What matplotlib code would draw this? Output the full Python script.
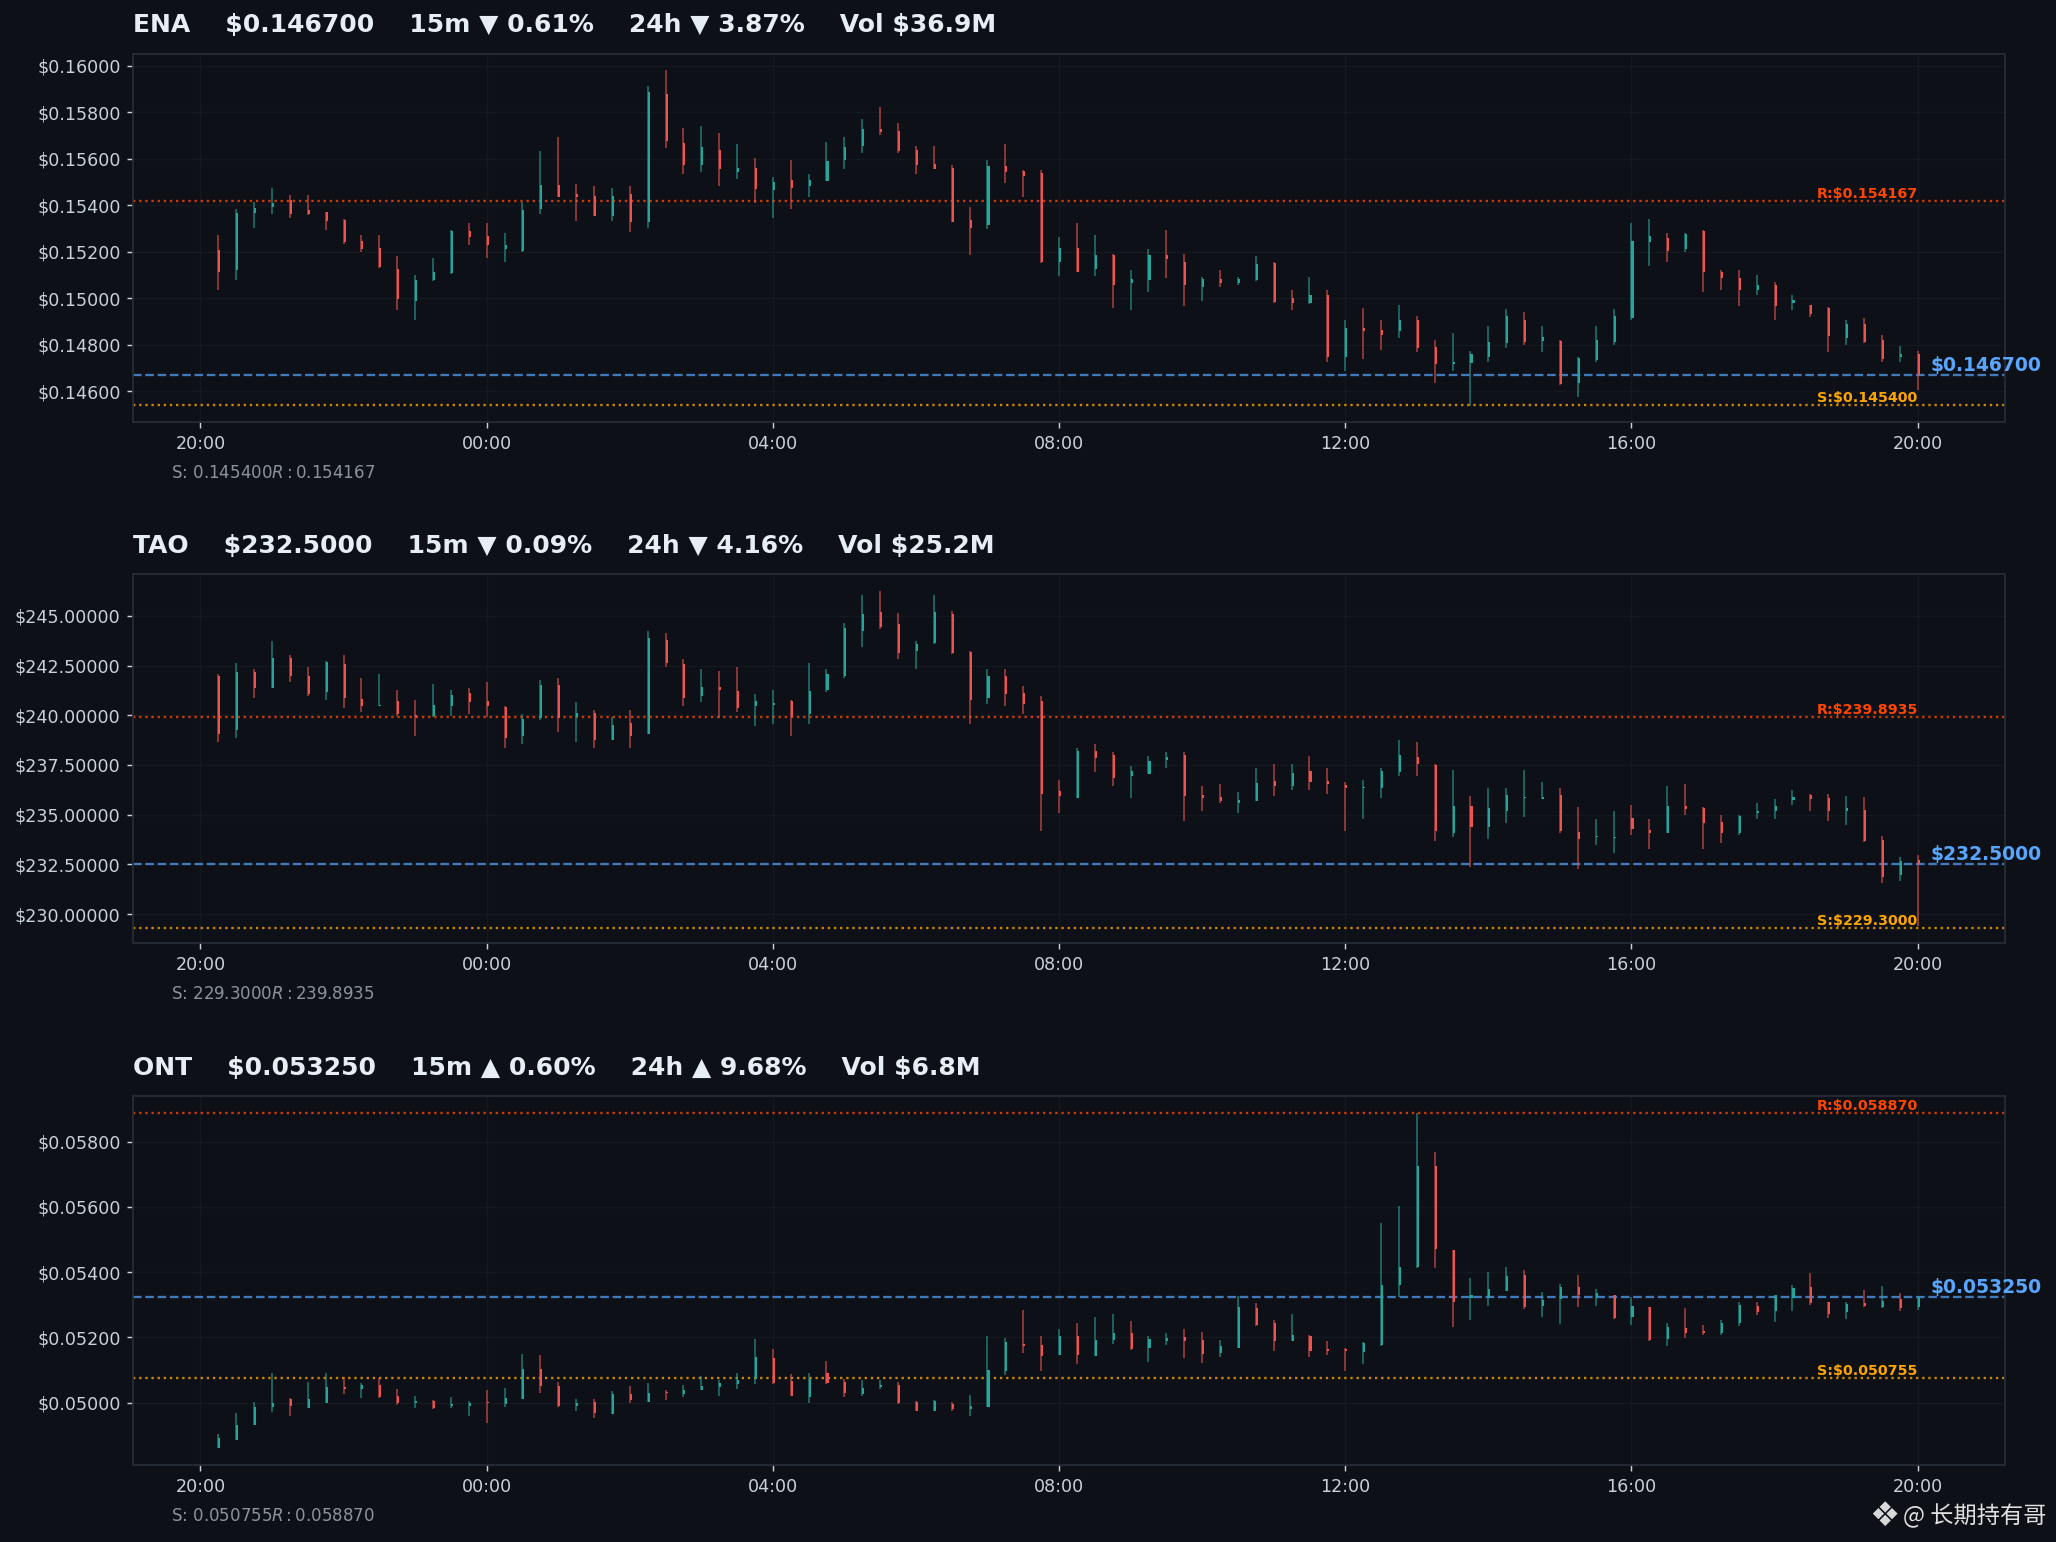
import matplotlib
matplotlib.use('Agg')
import matplotlib.pyplot as plt
import matplotlib.dates as mdates
import matplotlib.ticker as mticker
import pandas as pd

# 15m candles, 24h window
times = pd.date_range('2025-01-01 20:15', periods=96, freq='15min')

ena_open = [.15208, .15122, .15366, .15394, .15423, .15380, .15369, .15337, .15247, .15217,
            .15127, .14986, .15077, .15107, .15290, .15268, .15213, .15204, .15386, .15487,
            .15449, .15442, .15356, .15449, .15326, .15878, .15666, .15575, .15638, .15545,
            .15560, .15466, .15509, .15483, .15505, .15595, .15655, .15728, .15719, .15638,
            .15578, .15560, .15337, .15316, .15569, .15548, .15539, .15154, .15217, .15124,
            .15187, .15064, .15077, .15187, .15157, .15047, .15081, .15064, .15077, .15150,
            .14999, .14978, .15012, .14746, .14870, .14862, .14858, .14908, .14789, .14716,
            .14722, .14746, .14806, .14908, .14815, .14817, .14634, .14736, .14810, .14915,
            .15240, .15261, .15214, .15290, .15111, .15088, .15034, .15059, .14978, .14969,
            .14958, .14827, .14890, .14819, .14746, .14760]
ena_high = [.15273, .15384, .15412, .15475, .15445, .15445, .15372, .15341, .15273, .15273,
            .15183, .15101, .15174, .15294, .15324, .15324, .15281, .15414, .15634, .15694,
            .15492, .15483, .15475, .15483, .15913, .15981, .15731, .15741, .15711, .15664,
            .15603, .15522, .15595, .15535, .15672, .15694, .15771, .15822, .15754, .15655,
            .15655, .15573, .15393, .15595, .15664, .15552, .15552, .15264, .15324, .15273,
            .15191, .15122, .15213, .15294, .15191, .15092, .15122, .15092, .15183, .15154,
            .15034, .15092, .15034, .14905, .14956, .14905, .14971, .14925, .14822, .14852,
            .14775, .14882, .14955, .14942, .14882, .14822, .14746, .14882, .14955, .15324,
            .15341, .15281, .15281, .15294, .15122, .15122, .15101, .15071, .15015, .14972,
            .14964, .14905, .14913, .14843, .14793, .14775]
ena_low = [.15034, .15077, .15304, .15364, .15347, .15360, .15294, .15234, .15197, .15130,
           .14948, .14905, .15075, .15105, .15227, .15175, .15154, .15197, .15364, .15435,
           .15334, .15355, .15334, .15287, .15304, .15648, .15536, .15545, .15485, .15515,
           .15409, .15347, .15386, .15437, .15504, .15558, .15626, .15704, .15626, .15536,
           .15556, .15326, .15184, .15296, .15497, .15437, .15150, .15094, .15112, .15094,
           .14956, .14948, .15025, .15085, .14965, .14986, .15047, .15055, .15075, .14978,
           .14948, .14975, .14724, .14686, .14737, .14776, .14827, .14767, .14634, .14686,
           .14538, .14724, .14785, .14797, .14767, .14626, .14574, .14724, .14797, .14905,
           .15137, .15154, .15197, .15025, .15034, .14965, .15016, .14905, .14948, .14918,
           .14767, .14797, .14806, .14724, .14724, .14604]
ena_close = [.15115, .15367, .15389, .15409, .15363, .15364, .15334, .15241, .15213, .15135,
             .14995, .15079, .15111, .15291, .15264, .15227, .15228, .15380, .15487, .15437,
             .15437, .15356, .15442, .15326, .15887, .15678, .15575, .15649, .15558, .15560,
             .15469, .15500, .15475, .15509, .15591, .15651, .15728, .15715, .15634, .15573,
             .15558, .15330, .15304, .15569, .15545, .15528, .15154, .15217, .15115, .15187,
             .15055, .15081, .15187, .15167, .15055, .15081, .15064, .15081, .15148, .14982,
             .14978, .15012, .14746, .14870, .14858, .14840, .14908, .14785, .14716, .14727,
             .14759, .14810, .14922, .14810, .14832, .14630, .14742, .14819, .14922, .15247,
             .15268, .15205, .15277, .15115, .15085, .15034, .15059, .14965, .14991, .14933,
             .14836, .14890, .14810, .14737, .14759, .14670]

tao_open = [241.99, 239.26, 242.16, 241.36, 242.87, 241.99, 241.16, 242.57, 240.81, 240.47,
            240.70, 240.00, 239.97, 240.45, 241.11, 240.70, 240.40, 238.96, 239.87, 241.51,
            239.92, 240.10, 238.76, 239.60, 239.06, 243.78, 242.57, 240.96, 241.41, 241.21,
            240.45, 240.50, 240.70, 240.05, 241.26, 241.99, 244.23, 245.18, 244.58, 243.22,
            243.62, 245.08, 243.17, 240.86, 241.99, 241.11, 240.70, 236.17, 235.84, 238.19,
            237.99, 236.95, 237.05, 237.75, 237.99, 235.97, 235.87, 235.59, 235.69, 236.68,
            236.44, 237.20, 236.69, 236.48, 236.34, 236.34, 237.15, 237.89, 237.48, 234.08,
            235.42, 234.38, 235.18, 235.84, 235.80, 235.97, 234.13, 233.88, 233.84, 234.83,
            234.23, 234.08, 235.42, 235.32, 234.63, 234.08, 235.08, 235.18, 235.72, 235.97,
            235.82, 235.18, 235.22, 233.72, 231.96, 232.71]
tao_high = [242.06, 242.62, 242.32, 243.72, 243.02, 242.42, 242.72, 243.02, 241.86, 242.06,
            241.26, 240.76, 241.56, 241.26, 241.36, 241.66, 240.45, 240.05, 241.76, 241.86,
            240.65, 240.25, 239.92, 240.25, 244.23, 244.13, 242.82, 242.32, 242.21, 242.42,
            241.06, 241.26, 240.76, 242.62, 242.32, 244.63, 246.04, 246.24, 245.13, 243.72,
            246.04, 245.23, 243.22, 242.32, 242.32, 241.46, 240.96, 236.73, 238.34, 238.54,
            238.14, 237.43, 237.96, 238.14, 238.14, 236.43, 236.53, 236.12, 237.33, 237.53,
            237.53, 237.96, 237.33, 236.63, 236.73, 237.33, 238.74, 238.64, 237.53, 237.23,
            235.92, 236.33, 236.33, 237.23, 236.63, 236.33, 235.37, 234.78, 235.18, 235.47,
            234.78, 236.43, 236.53, 235.37, 234.97, 234.97, 235.57, 235.77, 236.22, 236.02,
            236.02, 235.92, 235.87, 233.94, 232.87, 232.97]
tao_low = [238.66, 238.86, 240.87, 241.35, 241.66, 240.96, 240.76, 240.37, 240.17, 240.45,
           239.97, 238.96, 239.92, 239.97, 240.07, 239.92, 238.36, 238.56, 239.77, 239.16,
           238.66, 238.36, 238.74, 238.36, 239.04, 242.42, 240.45, 240.65, 239.87, 240.17,
           239.46, 239.56, 238.96, 239.56, 241.16, 241.86, 243.42, 244.33, 242.82, 242.32,
           243.60, 243.10, 239.56, 240.57, 240.47, 240.07, 234.18, 235.08, 235.82, 237.15,
           236.44, 235.84, 237.03, 237.35, 234.68, 235.18, 235.59, 235.08, 235.67, 235.94,
           236.24, 236.24, 236.04, 234.18, 234.78, 235.84, 236.95, 236.95, 233.67, 233.88,
           232.37, 233.78, 234.58, 234.88, 235.79, 234.08, 232.27, 233.47, 233.07, 233.98,
           233.27, 234.06, 234.98, 233.27, 233.57, 233.98, 234.78, 234.78, 235.47, 235.18,
           234.68, 234.48, 233.65, 231.56, 231.66, 229.38]
tao_close = [239.06, 242.16, 241.36, 242.87, 241.96, 241.06, 242.67, 240.87, 240.47, 240.52,
             240.07, 239.92, 240.50, 241.01, 240.65, 240.45, 238.86, 239.80, 241.51, 239.87,
             240.10, 238.76, 239.50, 238.96, 243.88, 242.62, 240.86, 241.41, 241.26, 240.37,
             240.70, 240.60, 239.92, 241.21, 242.06, 244.38, 245.08, 244.43, 243.12, 243.57,
             245.18, 243.12, 240.76, 241.99, 241.06, 240.57, 236.04, 235.94, 238.19, 237.85,
             236.85, 237.18, 237.68, 237.89, 235.94, 235.84, 235.69, 235.74, 236.59, 236.44,
             237.10, 236.64, 236.54, 236.34, 236.38, 237.18, 237.99, 237.53, 234.18, 235.42,
             234.38, 235.32, 235.97, 235.87, 235.89, 234.18, 233.78, 233.93, 233.88, 234.28,
             234.08, 235.42, 235.29, 234.58, 234.08, 234.93, 235.18, 235.42, 235.87, 235.79,
             235.18, 235.32, 233.67, 231.86, 232.67, 232.50]

ont_open = [.04862, .04887, .04933, .04987, .05011, .04985, .05000, .05049, .05043, .05055,
            .05021, .05000, .05006, .04991, .04991, .05002, .04997, .05012, .05104, .05052,
            .04991, .05002, .04966, .05027, .05003, .05034, .05027, .05040, .05049, .05058,
            .05073, .05137, .05067, .05018, .05092, .05063, .05027, .05049, .05055, .05003,
            .04976, .04997, .04982, .04988, .05098, .05181, .05176, .05147, .05204, .05144,
            .05192, .05213, .05168, .05189, .05200, .05191, .05153, .05168, .05289, .05243,
            .05189, .05204, .05165, .05165, .05156, .05177, .05361, .05415, .05726, .05467,
            .05321, .05321, .05342, .05390, .05296, .05318, .05353, .05321, .05330, .05263,
            .05293, .05195, .05228, .05219, .05214, .05244, .05295, .05280, .05321, .05354,
            .05308, .05278, .05304, .05293, .05318, .05293]
ont_high = [.04904, .04968, .05002, .05091, .05014, .05063, .05091, .05079, .05060, .05076,
            .05042, .05021, .05009, .05017, .05006, .05039, .05045, .05149, .05146, .05063,
            .05011, .05011, .05036, .05052, .05060, .05039, .05054, .05081, .05070, .05091,
            .05194, .05164, .05088, .05091, .05127, .05073, .05070, .05070, .05064, .05006,
            .05009, .05003, .05024, .05204, .05197, .05283, .05204, .05225, .05243, .05262,
            .05271, .05249, .05204, .05213, .05225, .05216, .05191, .05326, .05304, .05252,
            .05271, .05207, .05188, .05167, .05185, .05552, .05604, .05887, .05768, .05468,
            .05381, .05399, .05417, .05408, .05338, .05365, .05390, .05347, .05331, .05325,
            .05294, .05243, .05289, .05237, .05252, .05308, .05308, .05330, .05361, .05396,
            .05310, .05310, .05344, .05356, .05336, .05328]
ont_low = [.04860, .04886, .04932, .04973, .04960, .04984, .04999, .05027, .05015, .05015,
           .04994, .04985, .04982, .04985, .04960, .04939, .04988, .05011, .05031, .04988,
           .04976, .04954, .04965, .05000, .05002, .05009, .05018, .05039, .05021, .05043,
           .05058, .05058, .05020, .05000, .05058, .05018, .05021, .05043, .04997, .04975,
           .04975, .04976, .04960, .04987, .05085, .05153, .05098, .05146, .05119, .05143,
           .05180, .05162, .05125, .05177, .05137, .05122, .05140, .05167, .05235, .05159,
           .05188, .05140, .05147, .05098, .05119, .05174, .05325, .05414, .05412, .05232,
           .05253, .05296, .05341, .05287, .05263, .05241, .05293, .05296, .05257, .05238,
           .05190, .05174, .05198, .05208, .05208, .05235, .05269, .05247, .05281, .05299,
           .05260, .05257, .05293, .05290, .05281, .05284]
ont_close = [.04892, .04932, .04987, .04999, .04990, .05011, .05049, .05043, .05055, .05018,
             .05000, .05006, .04985, .04997, .05000, .05000, .05015, .05104, .05052, .04991,
             .05000, .04969, .05027, .05009, .05031, .05031, .05040, .05052, .05061, .05070,
             .05140, .05061, .05021, .05073, .05061, .05031, .05046, .05055, .05000, .04976,
             .05006, .04982, .04991, .05101, .05185, .05175, .05144, .05204, .05147, .05191,
             .05213, .05165, .05194, .05197, .05189, .05150, .05173, .05292, .05238, .05189,
             .05207, .05159, .05159, .05159, .05182, .05362, .05417, .05726, .05470, .05308,
             .05331, .05347, .05387, .05293, .05315, .05354, .05330, .05336, .05260, .05295,
             .05192, .05231, .05214, .05214, .05244, .05299, .05278, .05329, .05351, .05305,
             .05272, .05302, .05296, .05311, .05290, .05325]

symbols = ['ENA', 'TAO', 'ONT']
prices = [0.146700, 232.5, 0.053250]
price_decimals = [6, 4, 6]
chg_15m = ['▼ 0.61%', '▼ 0.09%', '▲ 0.60%']
chg_24h = ['▼ 3.87%', '▼ 4.16%', '▲ 9.68%']
volumes = ['$36.9M', '$25.2M', '$6.8M']
supports = [0.145400, 229.3000, 0.050755]
resistances = [0.154167, 239.8935, 0.058870]
ytick_steps = [0.002, 2.5, 0.002]

ohlc = [(ena_open, ena_high, ena_low, ena_close),
        (tao_open, tao_high, tao_low, tao_close),
        (ont_open, ont_high, ont_low, ont_close)]

BG = '#0d1117'
UP = '#26a69a'
DOWN = '#ef5350'
TXT = '#e6edf3'

fig = plt.figure(figsize=(16, 12), dpi=128.5, facecolor=BG)
bottoms = [0.7261, 0.3883, 0.0498]

x = mdates.date2num(times)
body_w = 0.0012

for i in range(3):
    ax = fig.add_axes([0.0648, bottoms[i], 0.9103, 0.2392])
    ax.set_facecolor(BG)
    o, h, l, c = ohlc[i]
    cols = [UP if c[k] >= o[k] else DOWN for k in range(len(o))]
    ax.vlines(x, l, h, colors=cols, linewidth=1.0, alpha=0.6, zorder=2)
    ax.bar(x, [abs(c[k] - o[k]) for k in range(len(o))], width=body_w,
           bottom=[min(o[k], c[k]) for k in range(len(o))], color=cols,
           align='edge', linewidth=0, zorder=3)

    d = price_decimals[i]
    x_last = x[-1]
    ax.axhline(resistances[i], color='#ff4500', linestyle=':', linewidth=1.3, alpha=0.8, zorder=1)
    ax.axhline(supports[i], color='#ffa500', linestyle=':', linewidth=1.3, alpha=0.8, zorder=1)
    ax.axhline(prices[i], color='#58a6ff', linestyle='--', linewidth=1.3, alpha=0.7, zorder=1)
    ax.text(x_last, resistances[i], f'R:${resistances[i]:.{d}f}', ha='right', va='bottom',
            fontsize=8, fontweight='bold', color='#ff4500')
    ax.text(x_last, supports[i], f'S:${supports[i]:.{d}f}', ha='right', va='bottom',
            fontsize=8, fontweight='bold', color='#ffa500')
    ax.annotate(f'${prices[i]:.{d}f}', xy=(x_last, prices[i]), xytext=(7, 0),
                textcoords='offset points', ha='left', va='bottom', fontsize=10.5,
                fontweight='bold', color='#58a6ff', annotation_clip=False)

    ax.set_title(f'{symbols[i]}    \\${prices[i]:.{d}f}    15m {chg_15m[i]}    24h {chg_24h[i]}    Vol \\{volumes[i]}',
                 loc='left', fontsize=14, fontweight='bold', color=TXT, pad=12)
    ax.text(0.02, -0.138, f'S: ${supports[i]:.{d}f}    R: ${resistances[i]:.{d}f}',
            transform=ax.transAxes, color='#8b949e', fontsize=9.3, va='center')

    ax.xaxis.set_major_locator(mdates.HourLocator(byhour=[0, 4, 8, 12, 16, 20]))
    ax.xaxis.set_major_formatter(mdates.DateFormatter('%H:%M'))
    ax.yaxis.set_major_locator(mticker.MultipleLocator(ytick_steps[i]))
    ax.yaxis.set_major_formatter(mticker.FuncFormatter(lambda v, p: f'${v:.5f}'))
    ax.tick_params(colors='#c9d1d9', labelsize=9.8)
    ax.grid(True, color='#141920', linewidth=0.8)
    ax.set_axisbelow(True)
    for s in ax.spines.values():
        s.set_color('#262c36')
        s.set_linewidth(1.0)

# watermark
fig.text(0.9164, 1 - 1516 / 1542, '❖', fontsize=19, color='#d8d8d8', va='center', ha='center')
fig.text(0.9256, 1 - 1516 / 1542, '@ 长期持有哥', fontsize=13, color='#e0e0e0', va='center',
         ha='left', family=['Noto Sans CJK SC', 'DejaVu Sans'])

fig.savefig('out.png', dpi=128.5, facecolor=BG)
